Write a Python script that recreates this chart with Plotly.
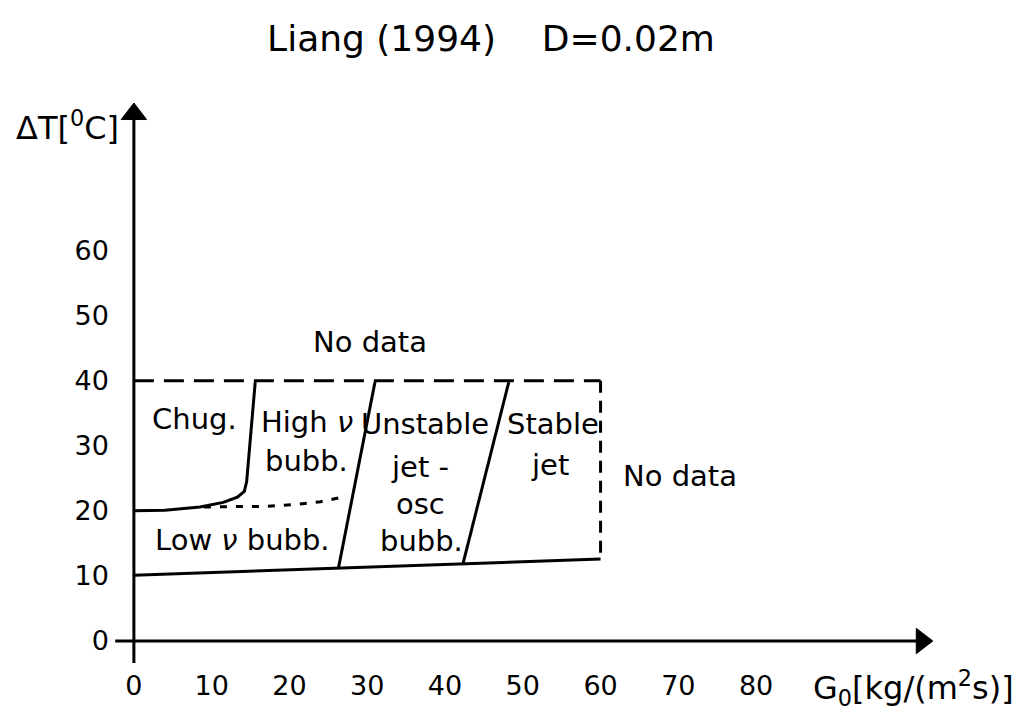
import plotly.graph_objects as go

# Axis ticks
x_ticks = [0, 10, 20, 30, 40, 50, 60, 70, 80]
y_ticks = [0, 10, 20, 30, 40, 50, 60]

# Axis extents (arrow tips and the short overhang past the origin)
x_axis_span = [-2.4, 101.3]
y_axis_span = [-3.4, 81.0]

# Outer limits of the mapped data region
top_x = [0, 60]
top_y = [40, 40]
right_x = [60, 60]
right_y = [40, 12.6]
bottom_x = [0, 60]
bottom_y = [10.1, 12.6]

# Chugging / high-frequency bubbling boundary
chug_x = [0, 4, 8.5, 11.5, 13.3, 14.2, 14.5, 15.6]
chug_y = [20, 20.1, 20.6, 21.3, 22.1, 23.0, 24.5, 39.8]

# Low / high frequency bubbling boundary (uncertain)
freq_x = [9, 13, 17, 21, 24, 27.2]
freq_y = [20.6, 20.6, 20.7, 21.0, 21.4, 22.2]

# Bubbling / unstable jet boundary
jet1_x = [26.3, 31.0]
jet1_y = [11.2, 39.8]

# Unstable / stable jet boundary
jet2_x = [42.3, 48.2]
jet2_y = [11.8, 39.8]

# Regime labels
label_text = ["No data", "No data", "Chug.", "High <i>ν</i>", "bubb.",
              "Unstable", "jet -", "osc", "bubb.", "Stable", "jet",
              "Low <i>ν</i> bubb."]
label_x = [30.3, 70.2, 7.8, 22.2, 22.2, 37.4, 36.8, 36.8, 37.0, 53.9, 53.5, 13.9]
label_y = [45.9, 25.4, 34.1, 33.7, 27.7, 33.4, 26.8, 21.1, 15.3, 33.4, 27.0, 15.5]

FONT = "DejaVu Sans"
BLACK = "#000000"

fig = go.Figure()


def add_line(xs, ys, dash="solid", width=3):
    fig.add_trace(go.Scatter(x=xs, y=ys, mode="lines",
                             line=dict(color=BLACK, width=width, dash=dash),
                             hoverinfo="skip", showlegend=False))


def add_arrowhead(x, y, symbol):
    fig.add_trace(go.Scatter(x=[x], y=[y], mode="markers", opacity=1,
                             marker=dict(symbol=symbol, size=22, color=BLACK, opacity=1,
                                         line=dict(color=BLACK, width=1)),
                             hoverinfo="skip", showlegend=False))


# Axis lines with arrowheads at the far ends
add_line(x_axis_span, [0, 0])
add_line([0, 0], y_axis_span)
add_arrowhead(x_axis_span[1], 0, "triangle-right")
add_arrowhead(0, y_axis_span[1], "triangle-up")

add_line(top_x, top_y, dash="20px,10px")
add_line(right_x, right_y, dash="12px,8px")
add_line(bottom_x, bottom_y)
add_line(chug_x, chug_y)
add_line(freq_x, freq_y, dash="7px,9px")
add_line(jet1_x, jet1_y)
add_line(jet2_x, jet2_y)

for t, x, y in zip(label_text, label_x, label_y):
    fig.add_annotation(x=x, y=y, text=t, showarrow=False,
                       font=dict(family=FONT, size=29, color=BLACK),
                       xanchor="center", yanchor="middle")

W, H = 1031, 713
ML, MR, MT, MB = 95.1, 25.6, 88.0, 30.8
pw, ph = W - ML - MR, H - MT - MB

# Axis titles, placed in pixels and converted to paper fractions
fig.add_annotation(x=(68 - ML) / pw, y=1 - (126 - MT) / ph, xref="paper", yref="paper",
                   text="ΔT[<sup>0</sup>C]", showarrow=False,
                   font=dict(family=FONT, size=32, color=BLACK),
                   xanchor="center", yanchor="middle")
fig.add_annotation(x=(914 - ML) / pw, y=1 - (690 - MT) / ph, xref="paper", yref="paper",
                   text="G<sub>0</sub>[kg/(m<sup>2</sup>s)]", showarrow=False,
                   font=dict(family=FONT, size=32, color=BLACK),
                   xanchor="center", yanchor="middle")

fig.update_layout(
    width=W, height=H,
    margin=dict(l=ML, r=MR, t=MT, b=MB, pad=0),
    paper_bgcolor="white", plot_bgcolor="white",
    title=dict(text="Liang (1994)    D=0.02m", x=491 / W, xref="container",
               xanchor="center", y=1 - 38 / H, yref="container", yanchor="middle",
               font=dict(family=FONT, size=36, color=BLACK)),
    xaxis=dict(range=[-5, 112], anchor="free", position=6 / 91,
               tickvals=x_ticks, ticktext=[str(v) for v in x_ticks],
               showgrid=False, zeroline=False, showline=False, ticks="",
               ticklabelstandoff=26,
               tickfont=dict(family=FONT, size=27, color=BLACK)),
    yaxis=dict(range=[-6, 85], anchor="free", position=5 / 117,
               tickvals=y_ticks, ticktext=[str(v) for v in y_ticks],
               showgrid=False, zeroline=False, showline=False, ticks="",
               ticklabelstandoff=25,
               tickfont=dict(family=FONT, size=27, color=BLACK)),
)

fig.write_html("out.html")
